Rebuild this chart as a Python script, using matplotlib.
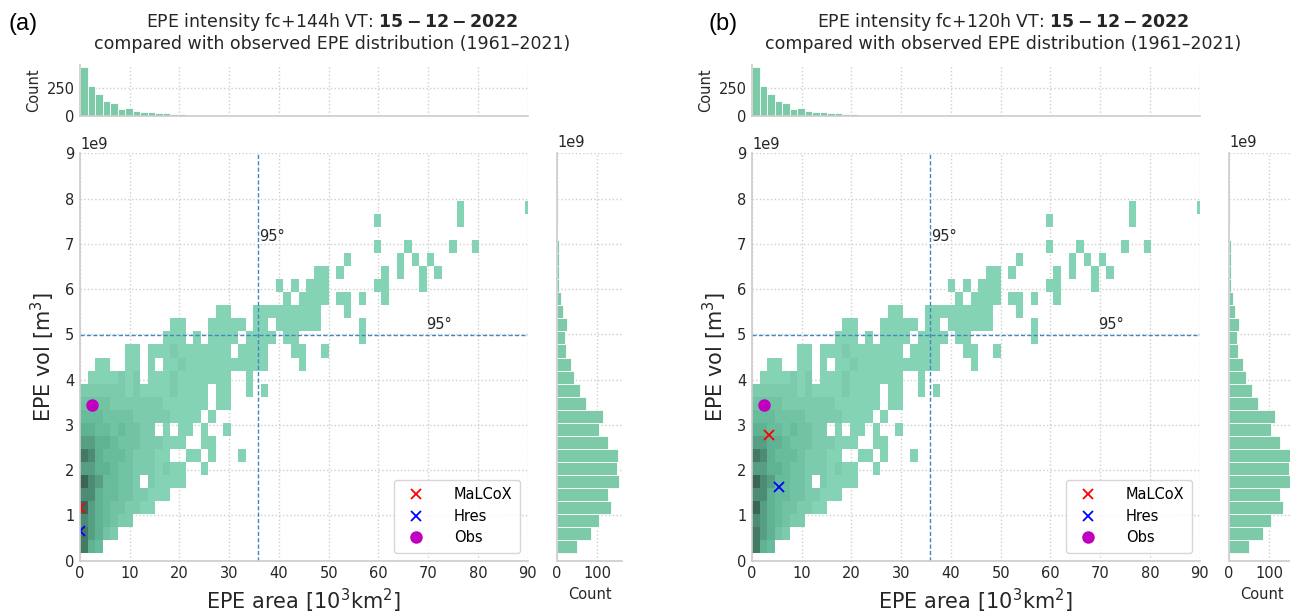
import numpy as np
import matplotlib
matplotlib.use("Agg")
import matplotlib.pyplot as plt
from matplotlib.colors import LinearSegmentedColormap

# ---------------- data ----------------
PANEL_TAGS = ["(a)", "(b)"]
LEAD_TIMES = ["144h", "120h"]
VALID_DATE = "15-12-2022"
PERIOD = "1961\u20132021"

# bin range of the observed EPE climatology
AREA_RANGE = (0.0, 90.9)        # 10^3 km^2
VOL_RANGE = (0.16e9, 7.95e9)    # m^3
N_AREA_BINS = 60
N_VOL_BINS = 27

# 2-D histogram cells: (vol-bin row, first area-bin column, density levels; '.' = empty)
HIST2D_RUNS = [
    (0, 0, "854"),
    (1, 0, "86532"),
    (2, 0, "7654322"),
    (3, 0, "9654332211"),
    (4, 0, "775443322111"),
    (5, 0, "97644332.21111"),
    (6, 0, "66554332221211..1"),
    (7, 0, "875444322211..11.1...1"),
    (8, 0, "66554333222111..11"),
    (9, 0, "5544343322.1.11.1..1"),
    (10, 0, "4443333222221111.1"),
    (11, 0, "33332222222111111.11"),
    (12, 0, "22222212111121111.11..1.1"),
    (13, 0, ".1111212.11121111111..1"),
    (14, 2, "11..11.1.11211111111111....1"),
    (15, 6, "11.11121111111.1111...11..1"),
    (16, 11, "111.1.1111.1111.11........1"),
    (17, 12, "11...11111.11.111111.....1"),
    (18, 18, "11...111111111...1"),
    (19, 27, "1.1111.11.1..1"),
    (20, 26, "1.1.111......11....1"),
    (21, 31, "11.1.....1.1..1.1"),
    (22, 35, "1......1.1.1"),
    (23, 39, "1...1.....1..1"),
    (25, 39, "1..........1"),
    (26, 50, "1........1"),
]

# marginal counts
AREA_COUNTS = [435, 271, 196, 137, 116, 62, 68, 45, 33, 36, 30, 24, 21, 18, 12,
               12, 6, 12, 12, 9, 3, 3, 5, 5, 6, 2, 3, 4, 5, 5,
               4, 5, 4, 0, 2, 3, 0, 3, 0, 3, 3, 0, 2, 1, 1,
               2, 1, 1, 0, 1, 2, 0, 1, 0, 0, 0, 0, 0, 0, 1]
VOL_COUNTS = [49, 85, 105, 134, 126, 153, 149, 150, 126, 104, 113, 71, 58, 43,
              34, 22, 21, 24, 14, 10, 5, 5, 4, 4, 0, 2, 2]

AREA_P95 = 35.8
VOL_P95 = 4.98e9

# forecast / observed points per panel
MALCOX_AREA = [0.05, 3.4]
MALCOX_VOL = [1.17e9, 2.78e9]
HRES_AREA = [0.05, 5.5]
HRES_VOL = [0.66e9, 1.63e9]
OBS_AREA = [2.4, 2.4]
OBS_VOL = [3.44e9, 3.44e9]

# ---------------- figure ----------------
W, H = 1290, 613
fig = plt.figure(figsize=(W / 100, H / 100), dpi=100)

BAR_COLOR = "#7dcaa9"
GRID_KW = dict(color="#cfcfcf", linestyle=":", linewidth=1.0)
cmap = LinearSegmentedColormap.from_list("epe", ["#84d3b4", "#5fb393", "#3a6656"])

xedges = np.linspace(AREA_RANGE[0], AREA_RANGE[1], N_AREA_BINS + 1)
yedges = np.linspace(VOL_RANGE[0], VOL_RANGE[1], N_VOL_BINS + 1)

grid = np.zeros((N_VOL_BINS, N_AREA_BINS))
for row, start, levels in HIST2D_RUNS:
    for i, ch in enumerate(levels):
        if ch != ".":
            grid[row, start + i] = int(ch)
masked = np.ma.masked_equal(grid, 0)


def px(x0, y0, x1, y1):
    return [x0 / W, 1 - y1 / H, (x1 - x0) / W, (y1 - y0) / H]


def style(ax):
    ax.set_facecolor("white")
    ax.grid(True, **GRID_KW)
    ax.set_axisbelow(True)
    for s in ["top", "right"]:
        ax.spines[s].set_visible(False)
    for s in ["left", "bottom"]:
        ax.spines[s].set_color("#cccccc")
        ax.spines[s].set_linewidth(1.2)
    ax.tick_params(length=0, labelsize=10.5, colors="#262626", pad=4)


for p in range(2):
    off = 672 * p
    ax = fig.add_axes(px(80 + off, 153.3, 527.7 + off, 560.7))
    axt = fig.add_axes(px(80 + off, 65, 527.7 + off, 116), sharex=ax)
    axr = fig.add_axes(px(557 + off, 153.3, 622 + off, 560.7), sharey=ax)
    for a in (ax, axt, axr):
        style(a)

    ax.pcolormesh(xedges, yedges, masked, cmap=cmap, vmin=1, vmax=9)
    ax.axvline(AREA_P95, color="#3f88bd", linestyle=(0, (3, 1.6)), linewidth=1.0)
    ax.axhline(VOL_P95, color="#3f88bd", linestyle=(0, (3, 1.6)), linewidth=1.0)
    ax.text(AREA_P95 + 0.3, 7.0e9, "95\u00b0", fontsize=10.5, color="#262626", va="bottom")
    ax.text(69.5, 5.05e9, "95\u00b0", fontsize=10.5, color="#262626", va="bottom")

    ax.plot(MALCOX_AREA[p], MALCOX_VOL[p], "x", color="red", ms=7, mew=1.3, label="MaLCoX")
    ax.plot(HRES_AREA[p], HRES_VOL[p], "x", color="blue", ms=7, mew=1.3, label="Hres")
    ax.plot(OBS_AREA[p], OBS_VOL[p], "o", color="m", ms=8, label="Obs")

    ax.set_xlim(0, 90)
    ax.set_ylim(0, 9e9)
    ax.set_xticks(np.arange(0, 91, 10))
    ax.set_yticks(np.arange(0, 9.1e9, 1e9))
    ax.yaxis.get_offset_text().set_fontsize(10.5)
    ax.set_xlabel("EPE area [$10^3$km$^2$]", fontsize=15, color="#262626", labelpad=4)
    ax.set_ylabel("EPE vol [m$^3$]", fontsize=15, color="#262626", labelpad=6)

    leg = ax.legend(loc="lower right", fontsize=10.5, frameon=True, fancybox=True,
                    borderpad=0.5, handletextpad=1.6, labelspacing=0.45,
                    borderaxespad=0.55)
    leg.get_frame().set_edgecolor("#cccccc")
    leg.get_frame().set_linewidth(1.0)

    # top marginal
    centers_x = (xedges[:-1] + xedges[1:]) / 2
    axt.bar(centers_x, AREA_COUNTS, width=xedges[1] - xedges[0], color=BAR_COLOR,
            edgecolor="white", linewidth=0.6)
    axt.set_yticks([0, 250])
    plt.setp(axt.get_xticklabels(), visible=False)
    axt.set_ylabel("Count", fontsize=10.5, color="#262626", labelpad=4)

    # right marginal
    centers_y = (yedges[:-1] + yedges[1:]) / 2
    axr.barh(centers_y, VOL_COUNTS, height=yedges[1] - yedges[0], color=BAR_COLOR,
             edgecolor="white", linewidth=0.6)
    axr.set_xticks([0, 100])
    plt.setp(axr.get_yticklabels(), visible=False)
    axr.yaxis.get_offset_text().set_visible(False)
    axr.text(0.0, 1.008, "1e9", transform=axr.transAxes, ha="left", va="bottom",
             fontsize=10.5, color="#262626")
    axr.set_xlabel("Count", fontsize=10.5, color="#262626", labelpad=4)

    cx = 332 + 671 * p
    fig.text(cx / W, 1 - 22 / H,
             "EPE intensity fc+" + LEAD_TIMES[p] + " VT: $\\mathbf{" + VALID_DATE + "}$",
             ha="center", va="center", fontsize=12.5, color="#262626")
    fig.text(cx / W, 1 - 44 / H,
             "compared with observed EPE distribution (" + PERIOD + ")",
             ha="center", va="center", fontsize=12.5, color="#262626")
    fig.text((8 + 700 * p) / W, 1 - 24 / H, PANEL_TAGS[p], ha="left", va="center",
             fontsize=17, family="Liberation Sans", color="black")

fig.savefig("out.png", dpi=100, facecolor="white")
